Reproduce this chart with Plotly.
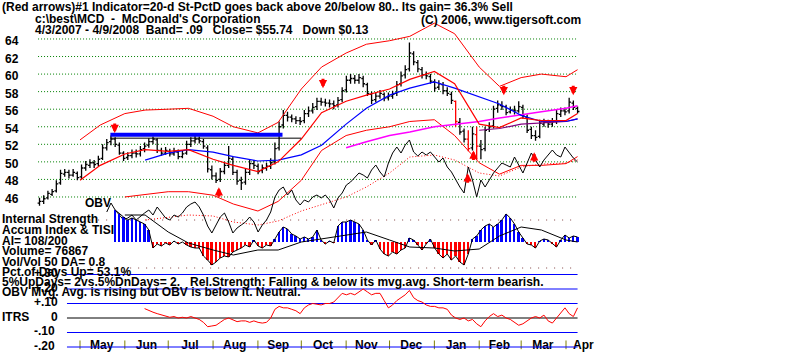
import plotly.graph_objects as go
import pandas as pd

# ---------------- data ----------------
START, END, N_BARS = "2007-04-03", "2008-04-09", 129

bar_open = [45.3, 45.5, 45.9, 46.3, 46.7, 47.6, 48.6, 48.8, 48.5, 48.7,
            48.3, 49.3, 49.6, 49.9, 49.8, 50.4, 51.6, 52.3, 52.6, 51.9,
            51.0, 50.5, 50.7, 51.0, 50.9, 51.5, 51.9, 52.3, 52.5, 51.3,
            51.0, 51.2, 50.9, 51.1, 50.6, 51.0, 52.0, 52.4, 52.6, 52.3,
            51.6, 49.1, 48.4, 48.0, 48.9, 49.6, 50.3, 48.8, 47.9, 47.7,
            48.8, 49.8, 49.5, 49.0, 49.3, 49.5, 50.0, 51.6, 54.2, 55.3,
            55.1, 54.9, 54.7, 54.7, 55.5, 55.8, 56.3, 56.9, 56.8, 56.7,
            56.6, 56.5, 57.1, 58.2, 59.3, 59.5, 59.3, 59.5, 58.8, 57.7,
            57.1, 57.5, 57.7, 57.3, 57.5, 57.8, 58.9, 59.9, 60.6, 62.3,
            61.3, 60.5, 59.9, 59.7, 59.1, 58.5, 58.8, 58.1, 57.7, 56.9,
            54.5, 53.5, 52.6, 51.6, 53.1, 51.8, 51.5, 53.7, 54.1, 56.1,
            56.4, 56.3, 55.7, 55.9, 55.8, 56.2, 55.1, 53.7, 53.0, 52.9,
            54.3, 54.5, 54.3, 54.6, 55.4, 55.8, 55.8, 56.7, 56.1]
bar_high = [45.9, 46.2, 46.7, 46.9, 47.9, 49.1, 49.2, 49.1, 49.2, 48.9,
            49.7, 50.1, 50.3, 50.2, 50.7, 52.0, 52.6, 53.0, 52.8, 52.2,
            51.2, 51.1, 51.4, 51.4, 51.8, 52.2, 52.7, 52.9, 52.7, 51.6,
            51.7, 51.5, 51.6, 51.4, 51.3, 52.4, 52.8, 53.0, 52.9, 52.6,
            51.9, 49.6, 48.8, 49.3, 50.0, 51.8, 50.6, 49.1, 48.3, 49.2,
            50.2, 50.2, 49.8, 49.7, 49.9, 50.4, 52.2, 54.6, 55.9, 55.7,
            55.4, 55.2, 55.1, 55.9, 56.3, 56.7, 57.3, 57.3, 57.2, 57.1,
            57.0, 57.4, 58.5, 59.8, 60.0, 59.9, 60.0, 59.8, 59.0, 58.0,
            57.9, 58.2, 57.9, 57.9, 58.1, 59.2, 60.3, 61.0, 63.6, 62.6,
            61.6, 60.8, 60.3, 60.0, 59.4, 59.3, 59.1, 58.5, 58.0, 57.0,
            55.0, 53.8, 53.6, 54.0, 54.0, 52.5, 54.0, 54.5, 56.4, 57.0,
            56.9, 56.5, 56.3, 56.4, 56.9, 56.5, 55.4, 54.0, 53.6, 54.8,
            54.9, 54.8, 55.0, 55.9, 56.2, 56.2, 57.3, 57.0, 56.3]
bar_low = [45.0, 45.2, 45.7, 46.1, 46.5, 47.4, 48.3, 48.1, 48.3, 47.9,
           48.0, 49.0, 49.3, 49.3, 49.5, 50.2, 51.3, 51.9, 51.7, 50.8,
           50.1, 50.2, 50.4, 50.5, 50.6, 51.1, 51.6, 52.0, 51.0, 50.7,
           50.8, 50.6, 50.7, 50.3, 50.4, 50.8, 51.7, 52.1, 52.1, 51.5,
           48.8, 48.0, 47.6, 47.7, 48.6, 49.3, 48.5, 47.4, 46.8, 47.4,
           48.5, 49.2, 48.6, 48.7, 49.0, 49.2, 49.7, 51.3, 53.8, 54.6,
           54.5, 54.3, 54.2, 54.4, 55.1, 55.5, 55.9, 56.4, 56.3, 56.2,
           56.0, 56.2, 56.8, 57.9, 58.9, 58.9, 58.9, 58.5, 57.5, 56.6,
           56.8, 57.2, 56.9, 57.0, 57.2, 57.5, 58.6, 59.5, 60.3, 61.0,
           60.2, 59.5, 59.4, 58.9, 58.0, 58.2, 57.7, 57.5, 56.6, 54.0,
           53.1, 52.2, 51.2, 51.3, 50.2, 50.3, 51.2, 53.4, 53.8, 55.6,
           55.9, 55.3, 55.5, 55.4, 55.6, 54.9, 53.3, 52.6, 52.4, 52.7,
           54.0, 53.9, 54.0, 54.3, 55.1, 55.3, 55.5, 55.9, 55.5]
bar_close = [45.5, 45.8, 46.4, 46.6, 47.5, 48.7, 48.8, 48.5, 48.8, 48.2,
             49.3, 49.7, 49.9, 49.7, 50.3, 51.6, 52.2, 52.6, 52.0, 51.0,
             50.4, 50.7, 51.0, 50.9, 51.4, 51.8, 52.3, 52.6, 51.3, 51.0,
             51.3, 50.9, 51.2, 50.6, 50.9, 52.0, 52.4, 52.6, 52.4, 51.8,
             49.2, 48.4, 47.9, 48.9, 49.6, 50.4, 48.8, 47.8, 47.6, 48.8,
             49.8, 49.6, 48.9, 49.3, 49.5, 49.9, 51.5, 54.0, 55.3, 55.1,
             54.9, 54.7, 54.6, 55.5, 55.8, 56.2, 56.9, 56.8, 56.7, 56.6,
             56.4, 57.0, 58.1, 59.3, 59.5, 59.3, 59.6, 58.9, 57.8, 57.0,
             57.5, 57.8, 57.3, 57.5, 57.7, 58.8, 59.8, 60.5, 62.4, 61.4,
             60.6, 59.9, 59.8, 59.2, 58.4, 58.9, 58.1, 57.8, 57.0, 54.6,
             53.4, 52.6, 51.5, 53.2, 51.8, 51.4, 53.6, 54.0, 56.0, 56.5,
             56.3, 55.6, 55.9, 55.8, 56.3, 55.2, 53.6, 53.0, 52.8, 54.4,
             54.5, 54.3, 54.6, 55.5, 55.8, 55.7, 56.8, 56.2, 55.74]
red_bar_idx = [99, 102, 104]

line_dates = ["2007-05-01", "2007-05-15", "2007-06-01", "2007-06-15", "2007-07-01",
              "2007-07-15", "2007-08-01", "2007-08-15", "2007-09-01", "2007-09-15",
              "2007-10-01", "2007-10-15", "2007-11-01", "2007-11-15", "2007-12-01",
              "2007-12-15", "2008-01-01", "2008-01-15", "2008-02-01", "2008-02-15",
              "2008-03-01", "2008-03-15", "2008-04-01", "2008-04-09"]
band_upper = [52.5, 54.2, 55.5, 55.9, 56.0, 56.1, 55.2, 54.0, 53.3, 54.5, 58.3, 60.8,
              62.4, 63.4, 63.8, 64.3, 65.8, 64.6, 60.8, 58.6, 59.6, 60.0, 59.7, 60.5]
ma_21 = [47.9, 49.6, 50.9, 51.4, 51.2, 51.4, 50.3, 49.6, 48.9, 50.0, 52.6, 55.6,
         56.9, 57.6, 58.3, 59.4, 60.3, 58.9, 54.3, 53.9, 55.0, 54.7, 54.7, 55.5]
band_lower = [None, None, 46.0, 46.3, 46.6, 46.6, 46.2, 45.2, 44.4, 45.5, 47.9, 51.3,
              53.0, 53.6, 54.0, 54.6, 54.8, 53.0, 49.9, 48.6, 49.6, 49.6, 49.8, 50.6]
ma_50 = [None, None, None, 50.2, 51.0, 51.4, 51.1, 50.6, 50.1, 50.2, 50.8, 51.9,
         54.3, 56.1, 57.6, 58.4, 59.1, 58.4, 57.4, 56.6, 55.3, 54.6, 54.6, 54.9]
ma_long = [None] * 12 + [51.6, 52.3, 53.0, 53.4, 54.0, 54.3, 54.6, 55.0, 55.4, 55.7, 56.1, 56.4]
ma_purple = [None] * 18 + [53.6, 53.8, 54.3, 54.4, 54.6, 54.9]
obv_ma = [None, None, None, 13, 16, 18, 17, 11, 8, 12, 22, 28,
          36, 46, 60, 76, 78, 73, 60, 57, 66, 69, 70, 73]
ai_ma = [None, None, 27, 27, 10, -1, -8, -13, -8, -8, 0, 3,
         7, 10, 2, -5, -6, -9, -7, 6, 15, 12, 2, 0]

obv = [None] * 16 + [
    21, 30, 23, 18, 13, 15, 18, 13, 17, 20,
    23, 18, 26, 21, 15, 13, 18, 16, 20, 26,
    29, 31, 26, 18, 7, 0, 8, 16, 20, 11,
    0, 5, 8, 11, 16, 11, 1, 8, 13, 21,
    36, 43, 46, 38, 43, 33, 28, 33, 31, 36,
    38, 35, 38, 33, 25, 35, 40, 48, 51, 55,
    60, 58, 55, 63, 68, 61, 56, 70, 80, 86,
    80, 88, 93, 81, 77, 81, 78, 81, 76, 71,
    75, 66, 61, 53, 46, 40, 66, 53, 36, 53,
    46, 53, 60, 65, 70, 68, 66, 76, 68, 60,
    70, 80, 73, 66, 73, 78, 83, 78, 76, 86,
    80, 75, 71]
accum_index = [None] * 18 + [
    32, 28, 25, 22, 24, 22, 20, 18, 12, -6,
    -2, -4, -1, -3, 1, -2, 0, -3, -5, -6,
    -6, -14, -18, -23, -20, -16, -14, -15, -10, -8,
    -6, -3, -5, 2, -4, -6, -3, -4, 3, 10,
    15, 13, 8, 6, 3, 5, 3, 5, 12, 2,
    -2, 1, -1, 16, 20, 20, 22, 20, 18, 12,
    2, -3, 2, -7, -12, -14, -10, -12, -8, -6,
    4, 2, -3, -8, -2, 3, -6, -12, -16, -12,
    -18, -14, -20, -23, -12, 3, 6, 12, 16, 18,
    15, 18, 22, 28, 24, 18, 10, 4, -2, -3,
    -6, 1, 3, 2, -2, -5, 2, 7, 4, 6,
    5]
itrs = [None] * 25 + [
    0.065, 0.05, 0.04, 0.03, 0.02, 0.01, 0.005, 0.01, 0.0, 0.005,
    0.0, 0.01, 0.0, -0.01, -0.03, -0.06, -0.055, -0.05, -0.03, -0.01,
    0.0, -0.015, -0.025, -0.02, -0.02, -0.03, -0.02, -0.03, -0.035, -0.03,
    0.0, 0.06, 0.08, 0.07, 0.07, 0.06, 0.05, 0.03, 0.07, 0.09,
    0.10, 0.095, 0.09, 0.10, 0.10, 0.11, 0.14, 0.17, 0.16, 0.17,
    0.16, 0.18, 0.20, 0.18, 0.16, 0.17, 0.17, 0.12, 0.07, 0.09,
    0.12, 0.14, 0.16, 0.19, 0.14, 0.12, 0.11, 0.09, 0.08, 0.08,
    0.07, 0.07, 0.06, 0.02, 0.0, -0.01, 0.0, -0.02, -0.01, -0.04,
    -0.06, -0.02, 0.01, 0.03, 0.01, 0.02, 0.0, -0.01, -0.03, -0.05,
    -0.04, -0.02, 0.0, 0.01, 0.0, 0.02, -0.02, -0.035, 0.0, 0.04,
    0.07, 0.03, 0.01, 0.07]

sell_dates = ["2007-05-25", "2007-10-16", "2008-02-18", "2008-04-06"]
sell_prices = [53.3, 58.4, 57.6, 57.6]
buy_dates = ["2007-08-05", "2008-01-24", "2008-01-28", "2008-03-10"]
buy_prices = [47.1, 48.7, 51.3, 51.1]

resist_dates = ["2007-05-22", "2007-09-18"]
resist_level = 53.1
support_dates = ["2007-05-22", "2007-10-01"]
support_level = 52.7

price_ticks = [64, 62, 60, 58, 56, 54, 52, 50, 48, 46]
itrs_levels = [0.3, 0.2, 0.1, -0.1, -0.2]
itrs_tick_vals = [0.3, 0.2, 0.1, 0.0, -0.1, -0.2]
itrs_tick_text = ["+.30", "+.20", "+.10", "0", "-.10", "-.20"]
ai_levels = [22, -26]
months = ["May", "Jun", "Jul", "Aug", "Sep", "Oct", "Nov", "Dec", "Jan", "Feb", "Mar", "Apr"]
month_starts = ["2007-05-01", "2007-06-01", "2007-07-01", "2007-08-01", "2007-09-01",
                "2007-10-01", "2007-11-01", "2007-12-01", "2008-01-01", "2008-02-01",
                "2008-03-01", "2008-04-01"]
month_mids = ["2007-05-16", "2007-06-16", "2007-07-16", "2007-08-16", "2007-09-15",
              "2007-10-16", "2007-11-15", "2007-12-16", "2008-01-16", "2008-02-15",
              "2008-03-16", "2008-04-13"]

title1 = "(Red arrows)#1 Indicator=20-d St-PctD goes back above 20/below 80.. Its gain= 36.3% Sell"
title2 = "c:\\best\\MCD  -  McDonald's Corporation"
title3 = "4/3/2007 - 4/9/2008  Band= .09   Close= $55.74   Down $0.13"
copyright_txt = "(C) 2006, www.tigersoft.com"
info_lines = ["Internal Strength", "Accum Index & TISI", "AI= 108/200", "Volume= 76867",
              "Vol/Vol 50 DA= 0.8", "Pct.of Days Up= 53.1%",
              "5%UpDays= 2vs.5%DnDays= 2.   Rel.Strength: Falling & below its mvg.avg. Short-term bearish.",
              "OBV Mvg. Avg. is rising but OBV is below it. Neutral."]

# ---------------- figure ----------------
W, H = 800, 352
FONT = "Liberation Sans, Arial, sans-serif"
dates = pd.date_range(START, END, periods=N_BARS)
grid_x = ["2007-04-02", "2008-04-09"]
itrs_x = ["2007-04-22", "2008-04-09"]
ai_x = ["2007-05-08", "2008-04-08"]

fig = go.Figure()

black_idx = [i for i in range(N_BARS) if i not in red_bar_idx]
def sub(lst, idx):
    return [lst[i] for i in idx]

# OBV panel (behind price)
fig.add_trace(go.Scatter(x=line_dates, y=obv_ma, yaxis="y2", mode="lines",
                         line=dict(color="#ff0000", width=1, dash="1px,2px"), connectgaps=False))
fig.add_trace(go.Scatter(x=dates, y=obv, yaxis="y2", mode="lines",
                         line=dict(color="#000000", width=1)))

# Accum index panel
ai_colors = ["#0000ff" if (v is not None and v >= 0) else "#ff0000" for v in accum_index]
fig.add_trace(go.Bar(x=dates, y=accum_index, yaxis="y3", marker=dict(color=ai_colors, line=dict(width=0)),
                     width=1.3 * 86400000))
fig.add_trace(go.Scatter(x=dates, y=accum_index, yaxis="y3", mode="lines",
                         line=dict(color="#000000", width=1)))
fig.add_trace(go.Scatter(x=line_dates, y=ai_ma, yaxis="y3", mode="lines",
                         line=dict(color="#000000", width=1)))

# price bands and averages
fig.add_trace(go.Scatter(x=line_dates, y=band_upper, mode="lines", line=dict(color="#ff0000", width=1)))
fig.add_trace(go.Scatter(x=line_dates, y=band_lower, mode="lines", line=dict(color="#ff0000", width=1)))
fig.add_trace(go.Scatter(x=line_dates, y=ma_long, mode="lines", line=dict(color="#ff00ff", width=1.5)))
fig.add_trace(go.Scatter(x=line_dates, y=ma_purple, mode="lines", line=dict(color="#800080", width=1.2)))
fig.add_trace(go.Scatter(x=line_dates, y=ma_50, mode="lines", line=dict(color="#0000ff", width=1.2)))
fig.add_trace(go.Scatter(x=line_dates, y=ma_21, mode="lines", line=dict(color="#ff0000", width=1.2)))
fig.add_trace(go.Scatter(x=support_dates, y=[support_level] * 2, mode="lines",
                         line=dict(color="#000000", width=1)))
fig.add_trace(go.Scatter(x=resist_dates, y=[resist_level] * 2, mode="lines",
                         line=dict(color="#0000ff", width=4)))

# price bars
fig.add_trace(go.Ohlc(x=sub(list(dates), black_idx), open=sub(bar_open, black_idx),
                      high=sub(bar_high, black_idx), low=sub(bar_low, black_idx),
                      close=sub(bar_close, black_idx), tickwidth=0.45,
                      increasing=dict(line=dict(color="#000000", width=1.3)),
                      decreasing=dict(line=dict(color="#000000", width=1.3))))
fig.add_trace(go.Ohlc(x=sub(list(dates), red_bar_idx), open=sub(bar_open, red_bar_idx),
                      high=sub(bar_high, red_bar_idx), low=sub(bar_low, red_bar_idx),
                      close=sub(bar_close, red_bar_idx), tickwidth=0.45,
                      increasing=dict(line=dict(color="#ff0000", width=1.3)),
                      decreasing=dict(line=dict(color="#ff0000", width=1.3))))

# ITRS panel
fig.add_trace(go.Scatter(x=dates, y=itrs, yaxis="y4", mode="lines",
                         line=dict(color="#ff0000", width=1)))
fig.add_trace(go.Scatter(x=month_mids, y=[-0.19] * len(months), yaxis="y4", mode="text",
                         text=["<b>%s</b>" % m for m in months], textposition="middle center",
                         textfont=dict(family=FONT, size=12, color="#000000"), cliponaxis=False))

shapes = []
for t in price_ticks:
    shapes.append(dict(type="line", xref="x", yref="y", x0=grid_x[0], x1=grid_x[1], y0=t, y1=t,
                       line=dict(color="#008000", width=1, dash="1px,2px"), layer="below"))
for lv in ai_levels:
    shapes.append(dict(type="line", xref="x", yref="y3", x0=ai_x[0], x1=ai_x[1], y0=lv, y1=lv,
                       line=dict(color="#804040", width=1, dash="1px,7px"), layer="below"))
for lv in itrs_levels:
    shapes.append(dict(type="line", xref="x", yref="y4", x0=itrs_x[0], x1=itrs_x[1], y0=lv, y1=lv,
                       line=dict(color="#0000ff", width=1), layer="above" if lv == -0.2 else "below"))
shapes.append(dict(type="line", xref="x", yref="y4", x0=itrs_x[0], x1=itrs_x[1], y0=0, y1=0,
                   line=dict(color="#000000", width=1), layer="below"))
for ms in month_starts:
    shapes.append(dict(type="line", xref="x", yref="y4", x0=ms, x1=ms, y0=-0.155, y1=-0.215,
                       line=dict(color="#808000", width=1), layer="below"))

ann = []
def txt(s, x, y, size=12):
    ann.append(dict(text="<b>%s</b>" % s, xref="paper", yref="paper", x=x / W, y=1 - y / H,
                    xanchor="left", yanchor="middle", showarrow=False,
                    font=dict(family=FONT, size=size, color="#000000"), borderpad=0))

txt(title1, 1, 7)
txt(title2, 34, 19)
txt(copyright_txt, 420, 20)
txt(title3, 34, 30)
for t in price_ticks:
    ann.append(dict(text="<b>%d</b>" % t, xref="paper", yref="y", x=4 / W, y=t, yshift=-2,
                    xanchor="left", yanchor="middle", showarrow=False,
                    font=dict(family=FONT, size=12, color="#000000"), borderpad=0))
itrs_label_x = [33, 33, 33, 50, 33, 33]
for v, s, lx in zip(itrs_tick_vals, itrs_tick_text, itrs_label_x):
    ann.append(dict(text="<b>%s</b>" % s, xref="paper", yref="y4", x=lx / W, y=v, yshift=1.5,
                    xanchor="left", yanchor="middle", showarrow=False,
                    font=dict(family=FONT, size=12, color="#000000"), borderpad=0))
txt("ITRS", 1, 317)
txt("OBV", 84, 203)
info_y = [219, 230, 241, 251, 261.5, 272, 282, 292]
for s, y in zip(info_lines, info_y):
    txt(s, 1, y)

for d, p in zip(sell_dates, sell_prices):
    ann.append(dict(x=d, y=p, xref="x", yref="y", ax=0, ay=-11, showarrow=True, arrowhead=2,
                    arrowsize=0.55, arrowwidth=3, arrowcolor="#ff0000", text="", standoff=0))
for d, p in zip(buy_dates, buy_prices):
    ann.append(dict(x=d, y=p, xref="x", yref="y", ax=0, ay=11, showarrow=True, arrowhead=2,
                    arrowsize=0.55, arrowwidth=3, arrowcolor="#ff0000", text="", standoff=0))

hidden = dict(visible=False, fixedrange=True, domain=[0, 1])
fig.update_layout(
    width=W, height=H, margin=dict(l=0, r=0, t=0, b=0),
    paper_bgcolor="#ffffff", plot_bgcolor="#ffffff", showlegend=False,
    xaxis=dict(type="date", range=["2007-03-06 16:34", "2008-09-09 18:43"], visible=False,
               rangeslider=dict(visible=False), fixedrange=True),
    yaxis=dict(range=[28.34, 68.44], **hidden),
    yaxis2=dict(range=[-119, 233], overlaying="y", **hidden),
    yaxis3=dict(range=[-110, 242], overlaying="y", **hidden),
    yaxis4=dict(range=[-34 / 145, 318 / 145], overlaying="y", **hidden),
    shapes=shapes, annotations=ann, bargap=0,
)
fig.write_html("out.html")
